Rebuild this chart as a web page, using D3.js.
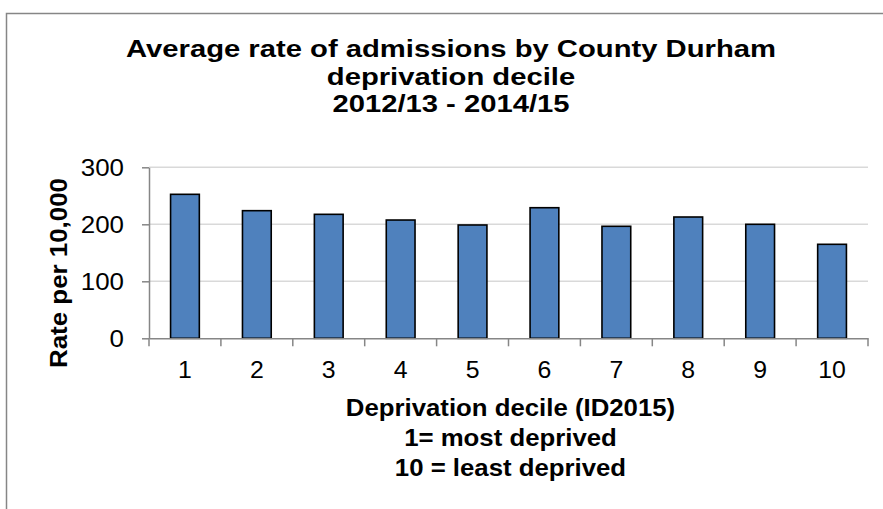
<!DOCTYPE html>
<html><head><meta charset="utf-8">
<script src="https://cdn.jsdelivr.net/npm/d3@7"></script>
<style>
html,body{margin:0;padding:0;background:#fff;}
svg{display:block;}
</style></head>
<body>
<svg id="chart" width="883" height="509"></svg>
<script>
const categories = ["1","2","3","4","5","6","7","8","9","10"];
const values = [252.6, 223.9, 217.5, 207.5, 198.8, 229.1, 196.5, 212.8, 200.0, 164.9];
const yTicks = [0, 100, 200, 300];
const titleLines = ["Average rate of admissions by County Durham", "deprivation decile", "2012/13 - 2014/15"];
const xTitleLines = ["Deprivation decile (ID2015)", "1= most deprived", "10 = least deprived"];
const yTitle = "Rate per 10,000";

const FONT = "'Liberation Sans', Arial, sans-serif";
const svg = d3.select("#chart");
const W = 883, H = 509;
svg.append("rect").attr("width", W).attr("height", H).attr("fill", "#fff");
// chart border
svg.append("rect").attr("x", 6.5).attr("y", 13.5).attr("width", 900).attr("height", 520)
  .attr("fill", "none").attr("stroke", "#868686").attr("stroke-width", 1.5);

// horizontal stretch of text (the reference is slightly widened)
function stretch(sel, sx) {
  sel.each(function () {
    const len = this.getComputedTextLength();
    d3.select(this).attr("textLength", len * sx).attr("lengthAdjust", "spacingAndGlyphs");
  });
}

const plot = {left: 149, right: 868, top: 167.3, bottom: 338.3};
const x = d3.scaleBand().domain(categories).range([plot.left, plot.right]).paddingInner(0.6).paddingOuter(0.3);
const xb = d3.scaleBand().domain(categories).range([plot.left, plot.right]);
const y = d3.scaleLinear().domain([0, 300]).range([plot.bottom, plot.top]);

// gridlines
svg.append("g").selectAll("line").data(yTicks.filter(d => d > 0)).join("line")
  .attr("x1", plot.left).attr("x2", plot.right)
  .attr("y1", d => y(d)).attr("y2", d => y(d))
  .attr("stroke", "#d9d9d9").attr("stroke-width", 1.5);

// bars
svg.append("g").selectAll("rect").data(values).join("rect")
  .attr("x", (d, i) => x(categories[i]))
  .attr("width", x.bandwidth())
  .attr("y", d => y(d))
  .attr("height", d => y(0) - y(d))
  .attr("fill", "#4f81bd").attr("stroke", "#000").attr("stroke-width", 1.6);

// y axis
const yAxis = d3.axisLeft(y).tickValues(yTicks).tickSize(7).tickPadding(18).tickSizeOuter(0);
const gy = svg.append("g").attr("transform", `translate(${plot.left},0)`).call(yAxis);
gy.select(".domain").attr("stroke", "#868686").attr("stroke-width", 1.5);
gy.selectAll(".tick line").attr("stroke", "#868686").attr("stroke-width", 1.5);
gy.selectAll(".tick text").attr("font-family", FONT).attr("font-size", 24).attr("fill", "#000")
  .attr("dy", "0.36em");
stretch(gy.selectAll(".tick text"), 1.08);

// x axis
const xAxis = d3.axisBottom(xb).tickSize(0).tickPadding(0).tickSizeOuter(0);
const gx = svg.append("g").attr("transform", `translate(0,${plot.bottom})`).call(xAxis);
gx.select(".domain").attr("stroke", "#868686").attr("stroke-width", 1.5);
gx.selectAll(".tick text").attr("font-family", FONT).attr("font-size", 23).attr("fill", "#000")
  .attr("dy", null).attr("y", 40);
stretch(gx.selectAll(".tick text"), 1.08);
// band boundary tick marks
const bounds = categories.map(c => xb(c)).concat([plot.right]);
gx.append("g").selectAll("line").data(bounds).join("line")
  .attr("x1", d => d).attr("x2", d => d).attr("y1", 0).attr("y2", 8)
  .attr("stroke", "#868686").attr("stroke-width", 1.5);

// title
const tt = svg.append("g").selectAll("text").data(titleLines).join("text")
  .attr("x", 451).attr("y", (d, i) => 57 + i * 27.5)
  .attr("text-anchor", "middle")
  .attr("font-family", FONT)
  .attr("font-weight", "bold").attr("font-size", 23.5).attr("fill", "#000")
  .text(d => d);
{
  const first = tt.nodes()[0].getComputedTextLength();
  stretch(tt, 650 / first);
}

// x title
const xt = svg.append("g").selectAll("text").data(xTitleLines).join("text")
  .attr("x", (plot.left + plot.right) / 2 + 2).attr("y", (d, i) => 415.5 + i * 30)
  .attr("text-anchor", "middle")
  .attr("font-family", FONT)
  .attr("font-weight", "bold").attr("font-size", 23).attr("fill", "#000")
  .text(d => d);
stretch(xt, 1.12);

// y title
svg.append("text")
  .attr("transform", `translate(67,273) rotate(-90)`)
  .attr("text-anchor", "middle")
  .attr("font-family", FONT)
  .attr("font-weight", "bold").attr("font-size", 23).attr("fill", "#000")
  .attr("textLength", 190).attr("lengthAdjust", "spacingAndGlyphs")
  .text(yTitle);
</script>
</body></html>
